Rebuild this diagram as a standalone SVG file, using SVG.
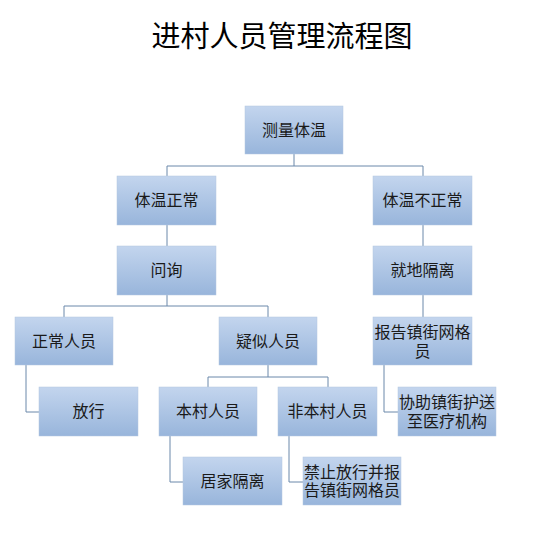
<svg xmlns="http://www.w3.org/2000/svg" width="552" height="557" viewBox="0 0 552 557">
<defs>
<linearGradient id="g" x1="0" y1="0" x2="0" y2="1">
<stop offset="0" stop-color="#c3d5ee"/>
<stop offset="1" stop-color="#98b5db"/>
</linearGradient>
</defs>
<style>
.box{fill:url(#g);stroke:#b4c7e0;stroke-width:0.5}
.t{font-family:"Liberation Sans","Noto Sans CJK SC",sans-serif;font-size:16px;fill:#1a1a1a;text-anchor:middle;dominant-baseline:central}
.title{font-family:"Noto Sans CJK SC",sans-serif;font-size:29px;fill:#000;text-anchor:middle}
.c{fill:none;stroke:#6a88aa;stroke-width:1}
</style>
<rect width="552" height="557" fill="#fff"/>
<text class="title" x="282" y="47">进村人员管理流程图</text>
<g id="connectors">
<path class="c" d="M294,154V166M167,176V166H423V176"/>
<path class="c" d="M167,225V246"/>
<path class="c" d="M423,225V246"/>
<path class="c" d="M167,295V306M64,317V306H268V317"/>
<path class="c" d="M423,295V317"/>
<path class="c" d="M26,365V412H39"/>
<path class="c" d="M268,365V377M208,387V377H328V387"/>
<path class="c" d="M384,365V412H398"/>
<path class="c" d="M170,436V482H183"/>
<path class="c" d="M289,436V482H303"/>
</g>
<g id="n1"><rect class="box" x="245" y="106" width="98" height="48"/><text class="t" x="294" y="130">测量体温</text></g>
<g id="n2"><rect class="box" x="117" y="176" width="99" height="49"/><text class="t" x="166.5" y="200">体温正常</text></g>
<g id="n3"><rect class="box" x="373" y="176" width="99" height="49"/><text class="t" x="422.5" y="200">体温不正常</text></g>
<g id="n4"><rect class="box" x="117" y="246" width="99" height="49"/><text class="t" x="166.5" y="270">问询</text></g>
<g id="n5"><rect class="box" x="373" y="246" width="99" height="49"/><text class="t" x="422.5" y="270">就地隔离</text></g>
<g id="n6"><rect class="box" x="15" y="317" width="98" height="48"/><text class="t" x="64" y="341">正常人员</text></g>
<g id="n7"><rect class="box" x="219" y="317" width="98" height="48"/><text class="t" x="268" y="341">疑似人员</text></g>
<g id="n8"><rect class="box" x="373" y="317" width="99" height="48"/><text class="t" x="422.5" y="332">报告镇街网格<tspan x="422.5" y="351">员</tspan></text></g>
<g id="n9"><rect class="box" x="39" y="387" width="99" height="49"/><text class="t" x="88.5" y="411">放行</text></g>
<g id="n10"><rect class="box" x="159" y="387" width="98" height="49"/><text class="t" x="208" y="411">本村人员</text></g>
<g id="n11"><rect class="box" x="278" y="387" width="99" height="49"/><text class="t" x="327.5" y="411">非本村人员</text></g>
<g id="n12"><rect class="box" x="398" y="387" width="98" height="49"/><text class="t" x="447" y="402">协助镇街护送<tspan x="447" y="421">至医疗机构</tspan></text></g>
<g id="n13"><rect class="box" x="183" y="457" width="99" height="48"/><text class="t" x="232.5" y="481">居家隔离</text></g>
<g id="n14"><rect class="box" x="303" y="457" width="98" height="48"/><text class="t" x="352" y="472">禁止放行并报<tspan x="352" y="490">告镇街网格员</tspan></text></g>
</svg>
